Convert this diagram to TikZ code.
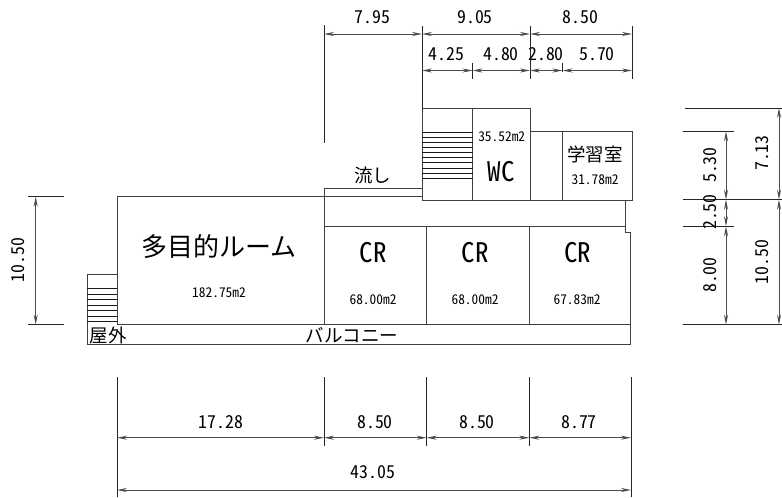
\documentclass[tikz,border=0pt]{standalone}
\usepackage{fontspec}
\usetikzlibrary{arrows.meta}
\newfontfamily\jpfont{Noto Sans CJK JP}
\newfontfamily\numfont[RawFeature=+hwid]{Noto Sans CJK JP}
\newfontfamily\tallfont[RawFeature=+hwid]{Noto Sans CJK JP}
\tikzset{
  x=1pt,y=-1pt,
  wall/.style={draw=black!75,line width=1pt},
  thin wall/.style={draw=black!90,line width=0.8pt},
  ext/.style={draw=black!85,line width=0.9pt},
  dimline/.style={draw=black!70,line width=0.9pt,{Stealth[length=10pt,width=4pt]}-{Stealth[length=10pt,width=4pt]}},
  dimtext/.style={inner sep=0pt,font=\numfont\fontsize{17.8}{18}\selectfont},
  smalltext/.style={inner sep=0pt,font=\numfont\fontsize{13.4}{14}\selectfont},
  bigtext/.style={inner sep=0pt,font=\tallfont\fontsize{27}{27}\selectfont},
  jplabel/.style={inner sep=0pt,font=\jpfont\fontsize{18.5}{18.5}\selectfont},
  jpbig/.style={inner sep=0pt,font=\jpfont\fontsize{26}{26}\selectfont},
}
\begin{document}
\begin{tikzpicture}
\useasboundingbox (0,0) rectangle (782,498);
% coordinates for dimension ends
\foreach \n/\x/\y in {
  a1/324/34,a2/422/34,a3/530/34,a4/632/34,
  b1/422/70.5,b2/472.5/70.5,b3/530/70.5,b4/562.5/70.5,b5/632/70.5,
  l1/35.7/196.7,l2/35.7/324.7,
  r1/726/131.3,r2/726/199.7,r3/726/226.3,r4/726/324.7,
  s1/779/108,s2/779/199.7,s3/779/324.7,
  c1/117/437.7,c2/324/437.7,c3/426.7/437.7,c4/529.3/437.7,c5/631/437.7,
  d1/117/490,d2/631/490}
  {\coordinate (\n) at (\x,\y);}
% building
\draw[wall] (117,196.7) rectangle (324,324.7);
\draw[wall] (324,226.5) rectangle (426.7,324.7);
\draw[wall] (426.7,226.5) rectangle (529.3,324.7);
\draw[wall] (529.3,226.5) -- (625,226.5) -- (625,232.7) -- (630.7,232.7) -- (630.7,324.7) -- (529.3,324.7) -- cycle;
\draw[wall] (87.3,324.7) -- (87.3,344.7) -- (630.7,344.7) -- (630.7,324.7);
\draw[wall] (87.3,324.7) -- (87.3,274.3) -- (117,274.3);
\draw[wall] (324,196.7) -- (324,188.9) -- (422,188.9);
\draw[wall] (324,196.7) -- (422,196.7);
\draw[wall] (422,108) rectangle (472.5,200);
\draw[wall] (472.5,108) rectangle (530,200);
\draw[wall] (530,131) rectangle (632,200);
\draw[wall] (562.5,131) -- (562.5,200);
\draw[wall] (625,200) -- (625,226.5);
% stairs
\foreach \y in {132.7,137.3,142.3,147.3,152.7,157.7,162.7,168.3,173.3,178.3}
  \draw[thin wall] (422,\y) -- (472.5,\y);
\foreach \y in {288.3,294.3,299.3,305.3,310.7,316,321}
  \draw[thin wall] (87.3,\y) -- (117,\y);
% extension lines
\draw[ext] (324,25) -- (324,143);
\draw[ext] (422,26) -- (422,108);
\draw[ext] (530,26) -- (530,79);
\draw[ext] (632,26) -- (632,79);
\draw[ext] (472.5,63) -- (472.5,79);
\draw[ext] (562.5,63) -- (562.5,72);
\draw[ext] (28,196.7) -- (64,196.7);
\draw[ext] (28,324.7) -- (64,324.7);
\draw[ext] (685,108) -- (782,108);
\draw[ext] (683,131.3) -- (734,131.3);
\draw[ext] (683,199.7) -- (782,199.7);
\draw[ext] (683,226.3) -- (734,226.3);
\draw[ext] (683,324.7) -- (782,324.7);
\draw[ext] (117,377) -- (117,497);
\draw[ext] (324,377) -- (324,446);
\draw[ext] (426.7,377) -- (426.7,446);
\draw[ext] (529.3,377) -- (529.3,446);
\draw[ext] (631,377) -- (631,497);
% dimensions
\draw[dimline] (a1) -- (a2);
\draw[dimline] (a2) -- (a3);
\draw[dimline] (a3) -- (a4);
\draw[dimline] (b1) -- (b2);
\draw[dimline] (b2) -- (b3);
\draw[dimline] (b3) -- (b4);
\draw[dimline] (b4) -- (b5);
\draw[dimline] (l1) -- (l2);
\draw[dimline] (r1) -- (r2);
\draw[dimline] (r2) -- (r3);
\draw[dimline] (r3) -- (r4);
\draw[dimline] (s1) -- (s2);
\draw[dimline] (s2) -- (s3);
\draw[dimline] (c1) -- (c2);
\draw[dimline] (c2) -- (c3);
\draw[dimline] (c3) -- (c4);
\draw[dimline] (c4) -- (c5);
\draw[dimline] (d1) -- (d2);
% dimension text
\node[dimtext] (t1) at (372.7,17) {7.95};
\node[dimtext] (t2) at (475,17) {9.05};
\node[dimtext] (t3) at (580.7,17) {8.50};
\node[dimtext] (t4) at (446.7,54) {4.25};
\node[dimtext] (t5) at (501,54) {4.80};
\node[dimtext] (t6) at (546,54) {2.80};
\node[dimtext] (t7) at (597,54) {5.70};
\node[dimtext,rotate=90] (t8) at (18,260) {10.50};
\node[dimtext,rotate=90] (t9) at (710,165) {5.30};
\node[dimtext,rotate=90] (t10) at (710,212) {2.50};
\node[dimtext,rotate=90] (t11) at (710,275) {8.00};
\node[dimtext,rotate=90] (t12) at (762,153) {7.13};
\node[dimtext,rotate=90] (t13) at (762,262) {10.50};
\node[dimtext] (t14) at (220.7,422) {17.28};
\node[dimtext] (t15) at (375,422) {8.50};
\node[dimtext] (t16) at (477,422) {8.50};
\node[dimtext] (t17) at (579,422) {8.77};
\node[dimtext] (t18) at (373,472) {43.05};
% room text
\node[jplabel] (r1t) at (372.7,175) {流し};
\node[smalltext] (r2t) at (501.7,136.7) {35.52m2};
\node[bigtext] (r3t) at (501,172) {WC};
\node[jplabel] (r4t) at (595,154) {学習室};
\node[smalltext] (r5t) at (595,180) {31.78m2};
\node[jpbig] (r6t) at (219,247) {多目的ルーム};
\node[smalltext] (r7t) at (219,293) {182.75m2};
\node[jplabel] (r8t) at (108,335) {屋外};
\node[jplabel] (r9t) at (352,335) {バルコニー};
\node[bigtext] (r10t) at (373,253) {CR};
\node[bigtext] (r11t) at (475,253) {CR};
\node[bigtext] (r12t) at (577.7,253) {CR};
\node[smalltext] (r13t) at (373,300) {68.00m2};
\node[smalltext] (r14t) at (475,300) {68.00m2};
\node[smalltext] (r15t) at (577,300) {67.83m2};
\end{tikzpicture}
\end{document}
